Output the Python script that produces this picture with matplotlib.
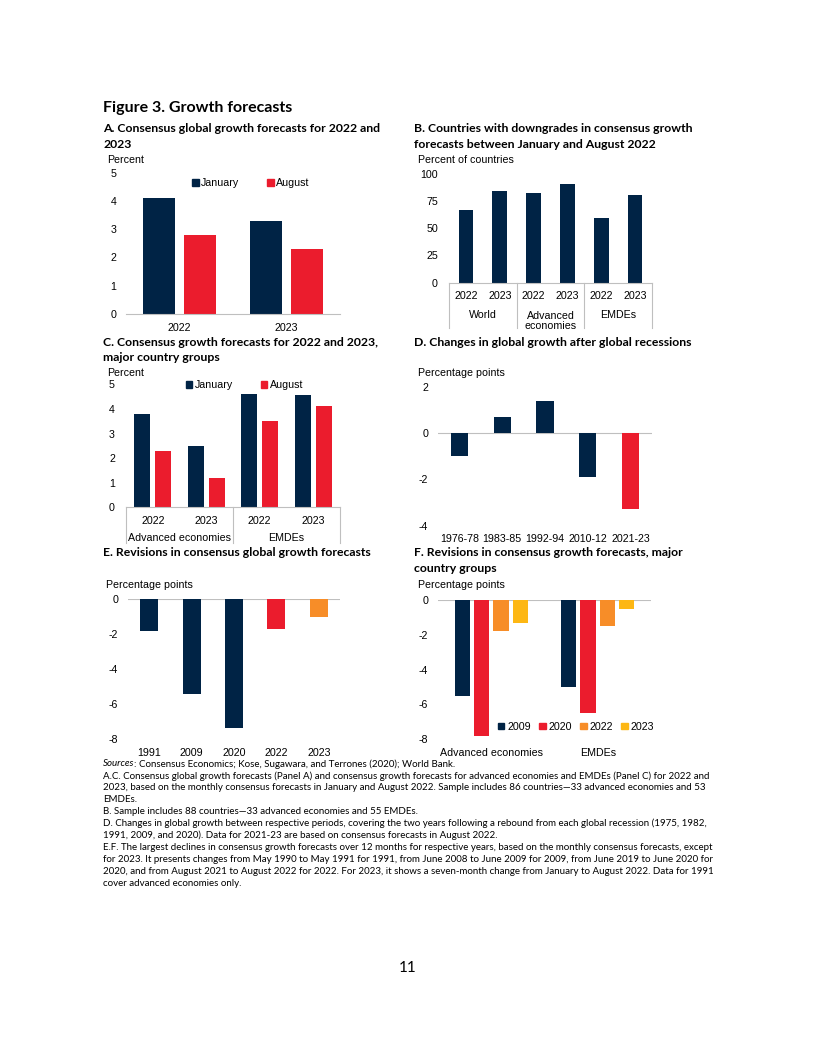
import matplotlib
matplotlib.use('Agg')
import matplotlib.pyplot as plt
from matplotlib.patches import Patch
from matplotlib.transforms import blended_transform_factory as btf

# ---------------- data ----------------
a_years = ['2022', '2023']
a_jan = [4.1, 3.3]
a_aug = [2.8, 2.3]

b_years = ['2022', '2023', '2022', '2023', '2022', '2023']
b_groups = ['World', 'Advanced\neconomies', 'EMDEs']
b_values = [67, 84, 82, 91, 59, 80]

c_years = ['2022', '2023', '2022', '2023']
c_groups = ['Advanced economies', 'EMDEs']
c_jan = [3.8, 2.5, 4.6, 4.55]
c_aug = [2.3, 1.2, 3.5, 4.1]

d_periods = ['1976-78', '1983-85', '1992-94', '2010-12', '2021-23']
d_values = [-1.0, 0.7, 1.4, -1.9, -3.3]

e_years = ['1991', '2009', '2020', '2022', '2023']
e_values = [-1.8, -5.4, -7.35, -1.7, -1.0]

f_groups = ['Advanced economies', 'EMDEs']
f_series = ['2009', '2020', '2022', '2023']
f_2009 = [-5.5, -5.0]
f_2020 = [-7.8, -6.5]
f_2022 = [-1.8, -1.5]
f_2023 = [-1.3, -0.5]

notes = [
    "A.C. Consensus global growth forecasts (Panel A) and consensus growth forecasts for advanced economies and EMDEs (Panel C) for 2022 and",
    "2023, based on the monthly consensus forecasts in January and August 2022. Sample includes 86 countries\u201433 advanced economies and 53",
    "EMDEs.",
    "B. Sample includes 88 countries\u201433 advanced economies and 55 EMDEs.",
    "D. Changes in global growth between respective periods, covering the two years following a rebound from each global recession (1975, 1982,",
    "1991, 2009, and 2020). Data for 2021-23 are based on consensus forecasts in August 2022.",
    "E.F. The largest declines in consensus growth forecasts over 12 months for respective years, based on the monthly consensus forecasts, except",
    "for 2023. It presents changes from May 1990 to May 1991 for 1991, from June 2008 to June 2009 for 2009, from June 2019 to June 2020 for",
    "2020, and from August 2021 to August 2022 for 2022. For 2023, it shows a seven-month change from January to August 2022. Data for 1991",
    "cover advanced economies only.",
]

# ---------------- style ----------------
W, H = 816, 1056
NAVY = '#002345'; RED = '#EB1C2D'; ORANGE = '#F78D28'; YELLOW = '#FDB714'
GREY = '#BFBFBF'
AXF = 'Liberation Sans'
TXF = 'Lato'
TS = 7.7
plt.rcParams['font.family'] = [AXF, 'DejaVu Sans']
plt.rcParams['axes.unicode_minus'] = False

fig = plt.figure(figsize=(W / 100, H / 100), dpi=100)
fig.patch.set_facecolor('white')
renderer = fig.canvas.get_renderer()


def px_axes(x0, y0, x1, y1):
    return fig.add_axes([x0 / W, 1 - y1 / H, (x1 - x0) / W, (y1 - y0) / H])


def ftext(x, y, s, **kw):
    kw.setdefault('va', 'center')
    kw.setdefault('ha', 'left')
    return fig.text(x / W, 1 - y / H, s, **kw)


def fit_size(s, width_px, family, weight='normal', style='normal'):
    t = fig.text(0, 0, s, fontsize=10, family=family, weight=weight, style=style)
    w = t.get_window_extent(renderer).width
    t.remove()
    return 10 * width_px / w


def style_ax(ax, ypad=7):
    for sp in ax.spines.values():
        sp.set_visible(False)
    ax.tick_params(axis='both', length=0, labelsize=TS)
    ax.tick_params(axis='y', pad=ypad)
    ax.tick_params(axis='x', pad=6.3)
    ax.set_facecolor('none')


def legend(ax, handles, cx, cy, colsp):
    lg = ax.legend(handles=handles, loc='center', bbox_to_anchor=(cx / W, 1 - cy / H),
                   bbox_transform=fig.transFigure, ncol=len(handles), frameon=False,
                   handlelength=0.6, handleheight=0.6, handletextpad=0.25,
                   columnspacing=colsp, borderpad=0,
                   prop={'family': AXF, 'size': TS})
    return lg

# ---------------- titles ----------------
fs_fig = fit_size("Figure 3. Growth forecasts", 190, TXF, 'bold')
ftext(103, 108, "Figure 3. Growth forecasts", fontsize=fs_fig, family=TXF, weight='bold')
fs_t = fit_size("A. Consensus global growth forecasts for 2022 and", 278, TXF, 'bold')
tk = dict(fontsize=fs_t, family=TXF, weight='bold')
ftext(103, 129, "A. Consensus global growth forecasts for 2022 and", **tk)
ftext(103, 145, "2023", **tk)
ftext(414, 129, "B. Countries with downgrades in consensus growth", **tk)
ftext(414, 145, "forecasts between January and August 2022", **tk)
ftext(103, 342, "C. Consensus growth forecasts for 2022 and 2023,", **tk)
ftext(103, 357, "major country groups", **tk)
ftext(414, 342, "D. Changes in global growth after global recessions", **tk)
ftext(103, 553, "E. Revisions in consensus global growth forecasts", **tk)
ftext(414, 553, "F. Revisions in consensus growth forecasts, major", **tk)
ftext(414, 569, "country groups", **tk)

ak = dict(fontsize=TS, family=AXF)
ftext(107, 160, "Percent", **ak)
ftext(418, 160, "Percent of countries", **ak)
ftext(107, 373, "Percent", **ak)
ftext(418, 373, "Percentage points", **ak)
ftext(106, 585, "Percentage points", **ak)
ftext(418, 585, "Percentage points", **ak)

# ---------------- Panel A ----------------
ax = px_axes(126, 172.7, 340, 314)
xa = list(range(len(a_years)))
ax.bar([x - 0.19 for x in xa], a_jan, width=0.3, color=NAVY, label='January')
ax.bar([x + 0.19 for x in xa], a_aug, width=0.3, color=RED, label='August')
ax.set_xlim(-0.5, 1.5); ax.set_ylim(0, 5)
ax.set_yticks(range(6)); ax.set_xticks(xa); ax.set_xticklabels(a_years)
style_ax(ax)
ax.spines['bottom'].set_visible(True); ax.spines['bottom'].set_color(GREY)
legend(ax, [Patch(color=NAVY, label='January'), Patch(color=RED, label='August')], 251, 183, 2.6)

# ---------------- Panel B ----------------
ax = px_axes(449, 173.7, 652, 282.7)
xb = list(range(len(b_values)))
ax.bar(xb, b_values, width=0.43, color=NAVY)
ax.set_xlim(-0.5, 5.5); ax.set_ylim(0, 100)
ax.set_yticks([0, 25, 50, 75, 100]); ax.set_xticks(xb); ax.set_xticklabels(b_years)
style_ax(ax, ypad=8)
ax.spines['bottom'].set_visible(True); ax.spines['bottom'].set_color(GREY)
tr = btf(ax.transData, ax.transAxes)
for xs in [-0.5, 1.5, 3.5, 5.5]:
    ax.plot([xs, xs], [0, -0.413], transform=tr, clip_on=False, color=GREY, lw=0.8)
for i, g in enumerate(b_groups):
    if '\n' in g:
        ax.text(2 * i + 0.5, -0.35, g, transform=tr, ha='center', va='center',
                fontsize=TS, family=AXF, linespacing=0.95)
    else:
        ax.text(2 * i + 0.5, -0.297, g, transform=tr, ha='center', va='center',
                fontsize=TS, family=AXF)

# ---------------- Panel C ----------------
ax = px_axes(126, 384.3, 340, 507.3)
xc = list(range(len(c_years)))
ax.bar([x - 0.2 for x in xc], c_jan, width=0.3, color=NAVY)
ax.bar([x + 0.2 for x in xc], c_aug, width=0.3, color=RED)
ax.set_xlim(-0.5, 3.5); ax.set_ylim(0, 5)
ax.set_yticks(range(6)); ax.set_xticks(xc); ax.set_xticklabels(c_years)
style_ax(ax, ypad=8)
ax.spines['bottom'].set_visible(True); ax.spines['bottom'].set_color(GREY)
tr = btf(ax.transData, ax.transAxes)
for xs in [-0.5, 1.5, 3.5]:
    ax.plot([xs, xs], [0, -0.293], transform=tr, clip_on=False, color=GREY, lw=0.8)
for i, g in enumerate(c_groups):
    ax.text(2 * i + 0.5, -0.25, g, transform=tr, ha='center', va='center', fontsize=TS, family=AXF)
legend(ax, [Patch(color=NAVY, label='January'), Patch(color=RED, label='August')], 244.5, 385, 2.6)

# ---------------- Panel D ----------------
ax = px_axes(438, 386.7, 652, 525.7)
xd = list(range(len(d_values)))
ax.bar(xd, d_values, width=0.4, color=[NAVY, NAVY, NAVY, NAVY, RED])
ax.axhline(0, color=GREY, lw=0.8, zorder=0)
ax.set_xlim(-0.5, 4.5); ax.set_ylim(-4, 2)
ax.set_yticks([-4, -2, 0, 2]); ax.set_xticks(xd); ax.set_xticklabels(d_periods)
style_ax(ax)

# ---------------- Panel E ----------------
ax = px_axes(128, 599.3, 340, 739)
xe = list(range(len(e_values)))
ax.bar(xe, e_values, width=0.42, color=[NAVY, NAVY, NAVY, RED, ORANGE])
ax.axhline(0, color=GREY, lw=0.8, zorder=0)
ax.set_xlim(-0.5, 4.5); ax.set_ylim(-8, 0)
ax.set_yticks([-8, -6, -4, -2, 0]); ax.set_xticks(xe); ax.set_xticklabels(e_years)
style_ax(ax)

# ---------------- Panel F ----------------
ax = px_axes(438, 600, 651, 739.3)
xf = list(range(len(f_groups)))
fcols = [NAVY, RED, ORANGE, YELLOW]
for k, (vals, lab) in enumerate(zip([f_2009, f_2020, f_2022, f_2023], f_series)):
    ax.bar([x + (k - 1.5) * 0.182 for x in xf], vals, width=0.142, color=fcols[k], label=lab)
ax.axhline(0, color=GREY, lw=0.8, zorder=0)
ax.set_xlim(-0.5, 1.5); ax.set_ylim(-8, 0)
ax.set_yticks([-8, -6, -4, -2, 0]); ax.set_xticks(xf); ax.set_xticklabels(f_groups)
style_ax(ax)
legend(ax, [Patch(color=c, label=l) for c, l in zip(fcols, f_series)], 576, 726.7, 0.8)

# ---------------- notes ----------------
fs_n = fit_size(notes[0], 608, TXF)
nk = dict(fontsize=fs_n, family=TXF)
t = ftext(103, 764, "Sources", style='italic', **nk)
wsrc = t.get_window_extent(renderer).width
ftext(103 + wsrc, 764, ": Consensus Economics; Kose, Sugawara, and Terrones (2020); World Bank.", **nk)
ys = [776, 788, 800, 812, 823.5, 835, 847, 859, 871, 883]
for y, line in zip(ys, notes):
    ftext(103, y, line, **nk)

ftext(408, 968, "11", fontsize=11, family=TXF, ha='center')

fig.savefig('out.png', dpi=100, facecolor='white')
